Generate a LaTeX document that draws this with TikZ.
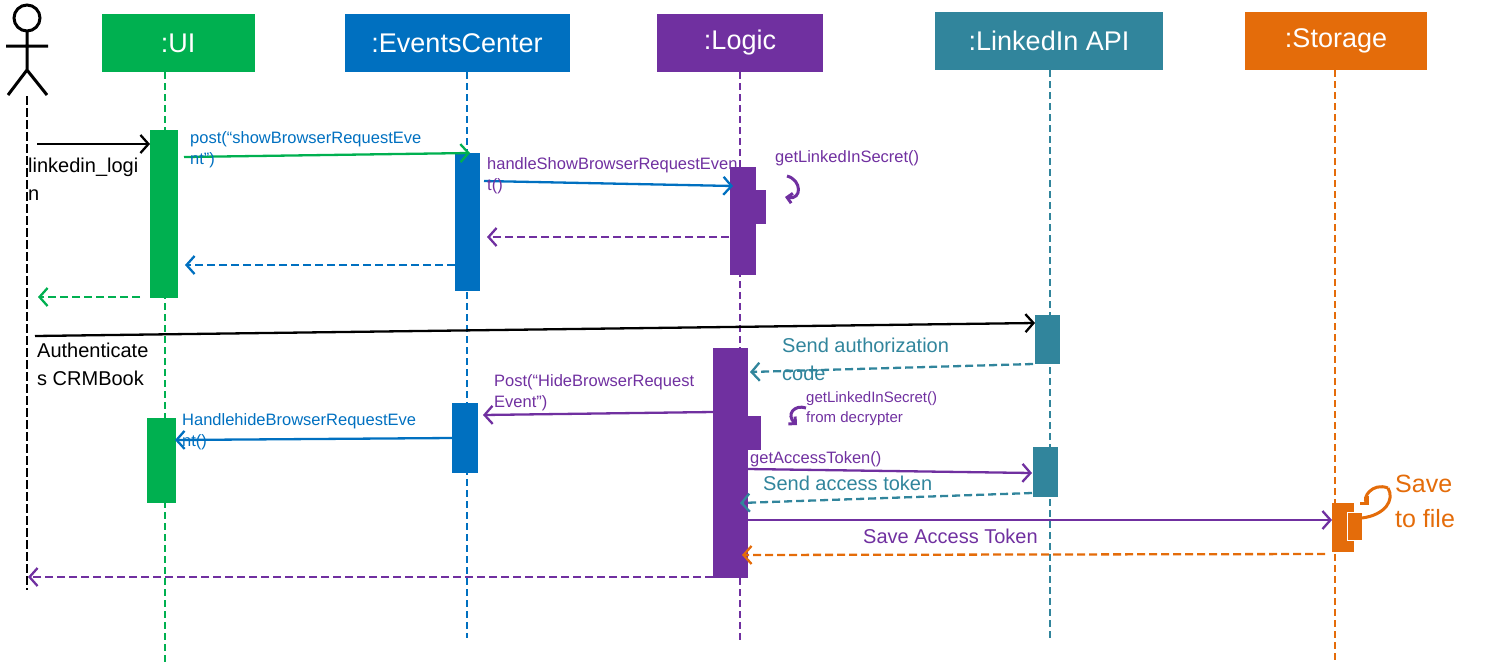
\documentclass[tikz,border=0pt]{standalone}
\usepackage{fontspec}
\setmainfont{Liberation Sans}
\usetikzlibrary{arrows.meta}
\definecolor{cg}{HTML}{00B050}
\definecolor{cb}{HTML}{0070C0}
\definecolor{cp}{HTML}{7030A0}
\definecolor{ct}{HTML}{31859C}
\definecolor{co}{HTML}{E46C0A}
\begin{document}
\begin{tikzpicture}[x=1pt,y=-1pt,
  head/.style={fill=#1,text=white,font=\fontsize{27}{30}\selectfont,inner sep=0pt},
  life/.style={draw=#1,line width=2pt,dash pattern=on 7pt off 4pt},
  msg/.style={draw=#1,line width=2.3pt,-{Straight Barb[length=8pt,width=18pt,line width=2.3pt]}},
  ret/.style={msg=#1,dash pattern=on 8pt off 4pt},
  lab/.style={text=#1,font=\fontsize{16.5}{21}\selectfont,anchor=north west,align=left,inner sep=0pt},
  blab/.style={text=#1,font=\fontsize{20}{28}\selectfont,anchor=north west,align=left,inner sep=0pt}]
\useasboundingbox (0,0) rectangle (1487,667);
% heads
\fill[cg] (102,14) rectangle (255,72); \node[head=cg] (ui) at (178,43) {:UI};
\fill[cb] (345,14) rectangle (570,72); \node[head=cb] (ec) at (457,43) {:EventsCenter};
\fill[cp] (657,14) rectangle (823,72); \node[head=cp] (lg) at (740,43) {:Logic};
\fill[ct] (935,12) rectangle (1163,70); \node[head=ct] (li) at (1049,41) {:LinkedIn API};
\fill[co] (1245,12) rectangle (1427,70); \node[head=co] (st) at (1336,41) {:Storage};
% lifelines
\draw[life=cg] (165,72) -- (165,662);
\draw[life=cb] (467,72) -- (467,638);
\draw[life=cp] (740,72) -- (740,640);
\draw[life=ct] (1050,70) -- (1050,640);
\draw[life=co] (1335,70) -- (1335,662);
\draw[line width=2.3pt,dash pattern=on 9pt off 3pt] (27,96) -- (27,590);
% actor
\draw[line width=3pt] (27,18) circle (13);
\draw[line width=3pt] (27,31) -- (27,70) (6,46) -- (48,46) (8,95) -- (27,70) -- (47,95);
% activations
\fill[cg] (150,130) rectangle (178,298);
\fill[cg] (147,418) rectangle (176,503);
\fill[cb] (455,153) rectangle (480,291);
\fill[cb] (452,403) rectangle (478,473);
\fill[cp] (730,167) rectangle (756,275); \fill[cp] (756,190) rectangle (766,224);
\fill[cp] (713,348) rectangle (748,578); \fill[cp] (748,416) rectangle (761,450);
\fill[ct] (1035,315) rectangle (1060,364);
\fill[ct] (1033,447) rectangle (1058,497);
\fill[co] (1332,503) rectangle (1354,552);
\draw[white,fill=co,line width=1pt] (1347,512) rectangle (1362,540);
% coordinates
\coordinate (a1) at (37,144); \coordinate (a2) at (150,144);
\coordinate (b1) at (184,157); \coordinate (b2) at (470,153);
\coordinate (c1) at (484,181); \coordinate (c2) at (733,186);
\coordinate (d1) at (729,237); \coordinate (d2) at (487,237);
\coordinate (e1) at (455,265); \coordinate (e2) at (185,265);
\coordinate (f1) at (140,297); \coordinate (f2) at (38,297);
\coordinate (g1) at (35,336); \coordinate (g2) at (1035,323);
\coordinate (h1) at (1033,364); \coordinate (h2) at (750,372);
\coordinate (i1) at (713,412); \coordinate (i2) at (483,415);
\coordinate (j1) at (452,438); \coordinate (j2) at (175,440);
\coordinate (k1) at (748,469); \coordinate (k2) at (1032,473);
\coordinate (l1) at (1032,493); \coordinate (l2) at (740,503);
\coordinate (m1) at (748,520); \coordinate (m2) at (1332,520);
\coordinate (n1) at (1325,554); \coordinate (n2) at (742,555);
\coordinate (o1) at (713,577); \coordinate (o2) at (28,577);
\draw[msg=black] (a1) -- (a2);
\draw[msg=cg] (b1) -- (b2);
\draw[msg=cb] (c1) -- (c2);
\draw[ret=cp] (d1) -- (d2);
\draw[ret=cb] (e1) -- (e2);
\draw[ret=cg] (f1) -- (f2);
\draw[msg=black] (g1) -- (g2);
\draw[ret=ct] (h1) -- (h2);
\draw[msg=cp] (i1) -- (i2);
\draw[msg=cb] (j1) -- (j2);
\draw[msg=cp] (k1) -- (k2);
\draw[ret=ct] (l1) -- (l2);
\draw[msg=cp] (m1) -- (m2);
\draw[ret=co] (n1) -- (n2);
\draw[ret=cp] (o1) -- (o2);
% self loops
\draw[cp,line width=3pt,-{Straight Barb[length=5pt,width=10pt]}] (787,176) .. controls (802,180) and (802,200) .. (785,197);
\draw[cp,line width=3pt,-{Straight Barb[length=5pt,width=10pt]}] (806,408) .. controls (794,404) and (786,415) .. (797,425);
\draw[co,line width=3pt,-{Straight Barb[length=5pt,width=10pt]}] (1388,488) .. controls (1372,482) and (1362,498) .. (1369,505);
\draw[co,line width=3pt] (1388,488) .. controls (1395,500) and (1385,515) .. (1362,518);
% labels
\node[blab=black] (t1) at (28,158) {linkedin\_logi\\n};
\node[lab=cb] (t2) at (190,131) {post(“showBrowserRequestEve\\nt”)};
\node[lab=cp] (t3) at (487,157) {handleShowBrowserRequestEven\\t()};
\node[lab=cp] (t4) at (775,150) {getLinkedInSecret()};
\node[blab=black] (t5) at (37,343) {Authenticate\\s CRMBook};
\node[blab=ct] (t6) at (782,338) {Send authorization\\code};
\node[lab=cp] (t7) at (494,374) {Post(“HideBrowserRequest\\Event”)};
\node[lab=cp,font=\fontsize{15}{20}\selectfont] (t8) at (806,391) {getLinkedInSecret()\\from decrypter};
\node[lab=cb] (t9) at (182,413) {HandlehideBrowserRequestEve\\nt()};
\node[lab=cp] (t10) at (750,451) {getAccessToken()};
\node[blab=ct] (t11) at (763,476) {Send access token};
\node[blab=cp] (t12) at (863,529) {Save Access Token};
\node[blab=co,font=\fontsize{25}{35}\selectfont] (t13) at (1395,475) {Save\\to file};
\end{tikzpicture}
\end{document}
